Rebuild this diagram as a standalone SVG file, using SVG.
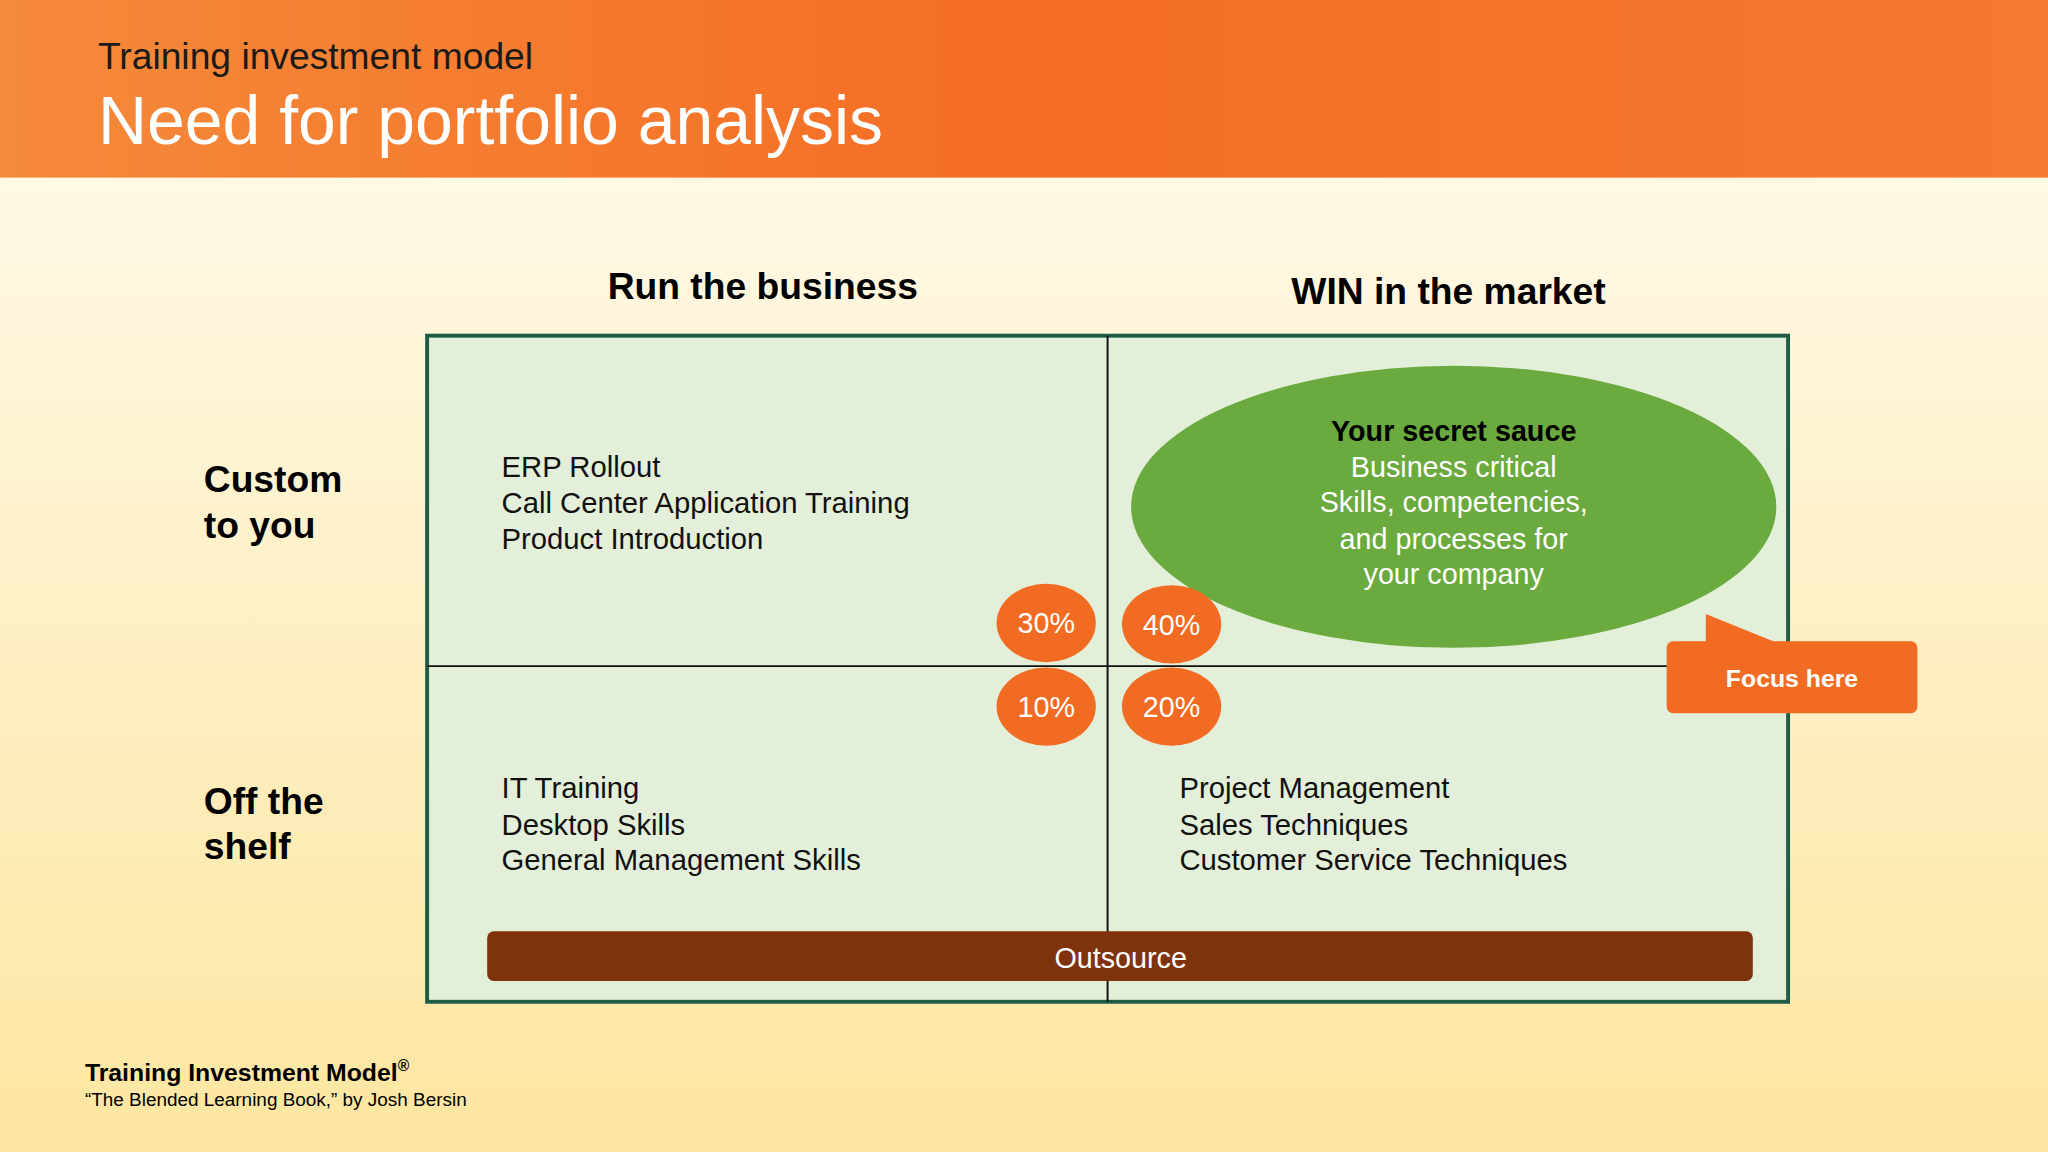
<svg xmlns="http://www.w3.org/2000/svg" width="2048" height="1152" viewBox="0 0 2048 1152">
<defs>
<linearGradient id="bg" x1="0" y1="0" x2="0" y2="1"><stop offset="0" stop-color="#fffcf2"/><stop offset="1" stop-color="#fde6a0"/></linearGradient>
<linearGradient id="hd" x1="0" y1="0" x2="1" y2="0"><stop offset="0" stop-color="#f58a3a"/><stop offset="0.5" stop-color="#f46d24"/><stop offset="1" stop-color="#f47a30"/></linearGradient>
<style>
text{font-family:"Liberation Sans",Arial,sans-serif}
.h{font-size:28.5px;font-weight:bold;fill:#000}
.l{font-size:22.4px;fill:#111}
.w{font-size:22px;fill:#fff;text-anchor:middle}
.pc{fill:#f26b22}
</style>
</defs>
<g transform="scale(1.30612)">
<rect width="1568" height="882" fill="url(#bg)"/>
<rect width="1568" height="136" fill="url(#hd)"/>
<text x="75" y="53" font-size="28.5" fill="#1a1a1a">Training investment model</text>
<text x="75" y="110" font-size="52" fill="#fff">Need for portfolio analysis</text>
<text class="h" x="584" y="229" text-anchor="middle">Run the business</text>
<text class="h" x="1109" y="233" text-anchor="middle">WIN in the market</text>
<text class="h" x="156" y="377">Custom</text><text class="h" x="156" y="412">to you</text>
<text class="h" x="156" y="623">Off the</text><text class="h" x="156" y="658">shelf</text>
<g id="grid">
<rect x="327" y="257" width="1042" height="510" fill="#e4efd9" stroke="#1f5c45" stroke-width="3"/>
<line x1="848" y1="257" x2="848" y2="767" stroke="#111" stroke-width="1.5"/>
<line x1="327" y1="510" x2="1369" y2="510" stroke="#111" stroke-width="1.5"/>
</g>
<g id="q1"><text class="l" x="384" y="365">ERP Rollout</text><text class="l" x="384" y="393">Call Center Application Training</text><text class="l" x="384" y="420">Product Introduction</text></g>
<g id="q3"><text class="l" x="384" y="611">IT Training</text><text class="l" x="384" y="639">Desktop Skills</text><text class="l" x="384" y="666">General Management Skills</text></g>
<g id="q4"><text class="l" x="903" y="611">Project Management</text><text class="l" x="903" y="639">Sales Techniques</text><text class="l" x="903" y="666">Customer Service Techniques</text></g>
<g id="sauce">
<ellipse cx="1113" cy="388" rx="247" ry="108" fill="#6aaa3e"/>
<text x="1113" y="338" font-size="22" font-weight="bold" text-anchor="middle" fill="#000">Your secret sauce</text>
<text class="w" x="1113" y="365">Business critical</text><text class="w" x="1113" y="392">Skills, competencies,</text><text class="w" x="1113" y="420">and processes for</text><text class="w" x="1113" y="447">your company</text>
</g>
<g id="pcts">
<ellipse class="pc" cx="801" cy="477" rx="38" ry="30"/><text class="w" x="801" y="485">30%</text>
<ellipse class="pc" cx="897" cy="478" rx="38" ry="30"/><text class="w" x="897" y="486">40%</text>
<ellipse class="pc" cx="801" cy="541" rx="38" ry="30"/><text class="w" x="801" y="549">10%</text>
<ellipse class="pc" cx="897" cy="541" rx="38" ry="30"/><text class="w" x="897" y="549">20%</text>
</g>
<g id="focus">
<path d="M1306 470 L1360 492 L1306 492 Z" fill="#f26b22"/>
<rect x="1276" y="491" width="192" height="55" rx="5" fill="#f26b22"/>
<text x="1372" y="526" font-size="19" font-weight="bold" fill="#fff" text-anchor="middle">Focus here</text>
</g>
<g id="outsource">
<rect x="373" y="713" width="969" height="38" rx="5" fill="#7f330c"/>
<text class="w" x="858" y="741">Outsource</text>
</g>
<text x="65" y="828" font-size="19" font-weight="bold" fill="#000">Training Investment Model<tspan font-size="12" dy="-8">®</tspan></text>
<text x="65" y="847" font-size="14.5" fill="#000">“The Blended Learning Book,” by Josh Bersin</text>
</g>
</svg>
